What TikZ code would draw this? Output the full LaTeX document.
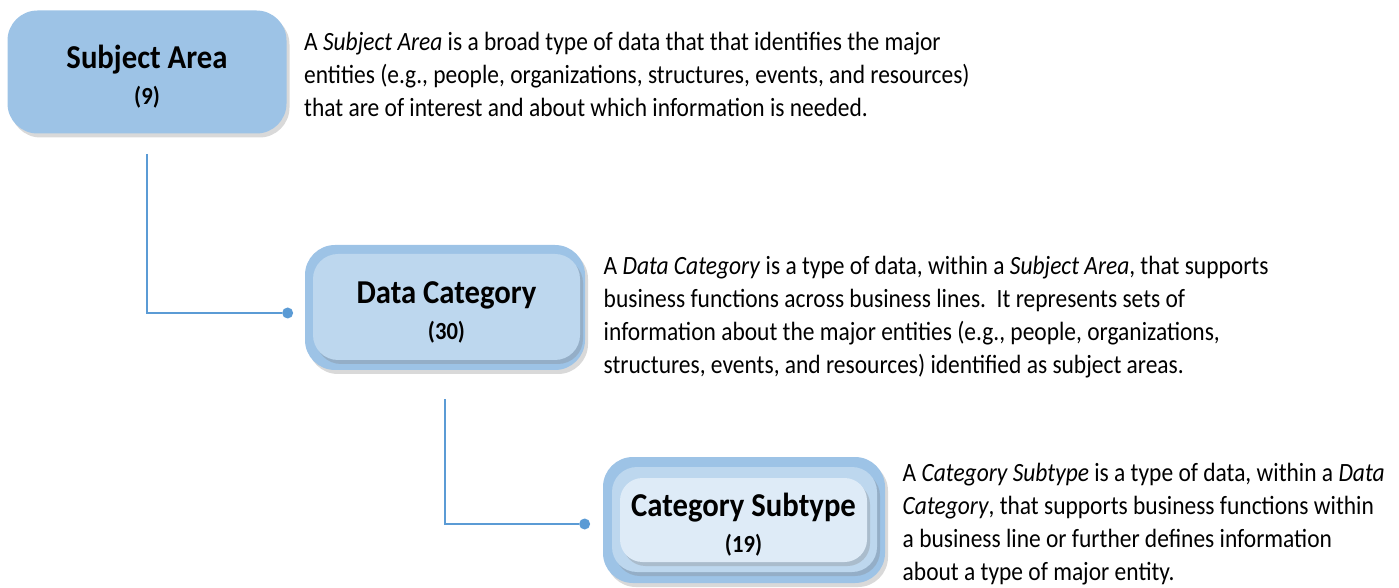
\documentclass[tikz,border=0pt]{standalone}
\usepackage{fontspec}
\setmainfont{Carlito}
\newfontfamily\notefont[FakeStretch=0.89]{Carlito}
\newfontfamily\boxfont[FakeStretch=0.92]{Carlito}
\usetikzlibrary{positioning,calc,shadows}

\definecolor{areablue}{HTML}{9DC3E6}
\definecolor{catblue}{HTML}{BDD7EE}
\definecolor{subblue}{HTML}{DEEBF7}
\definecolor{linkblue}{HTML}{5B9BD5}

\tikzset{
    level/.style={rounded corners=0.6cm, fill=areablue, inner sep=0pt, align=center,
        drop shadow={opacity=0.3, shadow xshift=0.06cm, shadow yshift=-0.08cm}},
    note/.style={font=\notefont\fontsize{15}{18.8}\selectfont, align=left, inner sep=0pt},
    link/.style={draw=linkblue, line width=1.1pt},
    pin/.style={circle, fill=linkblue, inner sep=0pt, minimum size=0.22cm}
}

\newcommand{\boxtext}[2]{{\boxfont\bfseries\fontsize{19}{22}\selectfont\rule{0pt}{19pt}#1}\\[6pt]{\boxfont\bfseries\fontsize{14}{16}\selectfont #2}}

\begin{document}
\begin{tikzpicture}
    \useasboundingbox (0,0) rectangle (27.98,-11.76);
    %
    \node[level, minimum width=5.58cm, minimum height=2.46cm] (sa) at (2.94,-1.44) {\boxtext{Subject Area}{(9)}};
    %
    \node[level, minimum width=5.6cm, minimum height=2.5cm] (dc) at (8.9,-6.15) {};
    \node[level, fill=catblue, minimum width=5.34cm, minimum height=2.12cm, rounded corners=0.5cm] (dcIn) at (8.93,-6.14) {\boxtext{Data Category}{(30)}};
    %
    \node[level, minimum width=5.64cm, minimum height=2.52cm] (cs) at (14.88,-10.4) {};
    \node[level, fill=catblue, minimum width=5.3cm, minimum height=2.1cm, rounded corners=0.5cm] (csMid) at (14.89,-10.39) {};
    \node[level, fill=subblue, minimum width=4.94cm, minimum height=1.68cm, rounded corners=0.45cm] (csIn) at (14.87,-10.4) {\boxtext{Category Subtype}{(19)}};
    %
    \node[note, anchor=west, right=0.34cm of sa.east, yshift=-0.05cm] (saNote) {A \textit{Subject Area} is a broad type of data that that identifies the major\\
        entities (e.g., people, organizations, structures, events, and resources)\\
        that are of interest and about which information is needed.};
    \node[note, anchor=west, right=0.36cm of dc.east, yshift=-0.19cm] (dcNote) {A \textit{Data Category} is a type of data, within a \textit{Subject Area}, that supports\\
        business functions across business lines.\ \ It represents sets of\\
        information about the major entities (e.g., people, organizations,\\
        structures, events, and resources) identified as subject areas.};
    \node[note, anchor=west, right=0.34cm of cs.east, yshift=-0.08cm] (csNote) {A \textit{Category Subtype} is a type of data, within a \textit{Data}\\
        \textit{Category}, that supports business functions within\\
        a business line or further defines information\\
        about a type of major entity.};
    %
    \coordinate (saTail) at ($(sa.south)+(0,-0.4)$);
    \coordinate (dcTail) at ($(dc.south)+(0,-0.58)$);
    \node[pin] (dcPin) at ($(dc.west)+(-0.34,-0.11)$) {};
    \node[pin] (csPin) at ($(cs.west)+(-0.36,-0.08)$) {};
    \draw[link] (saTail) |- (dcPin);
    \draw[link] (dcTail) |- (csPin);
\end{tikzpicture}
\end{document}
